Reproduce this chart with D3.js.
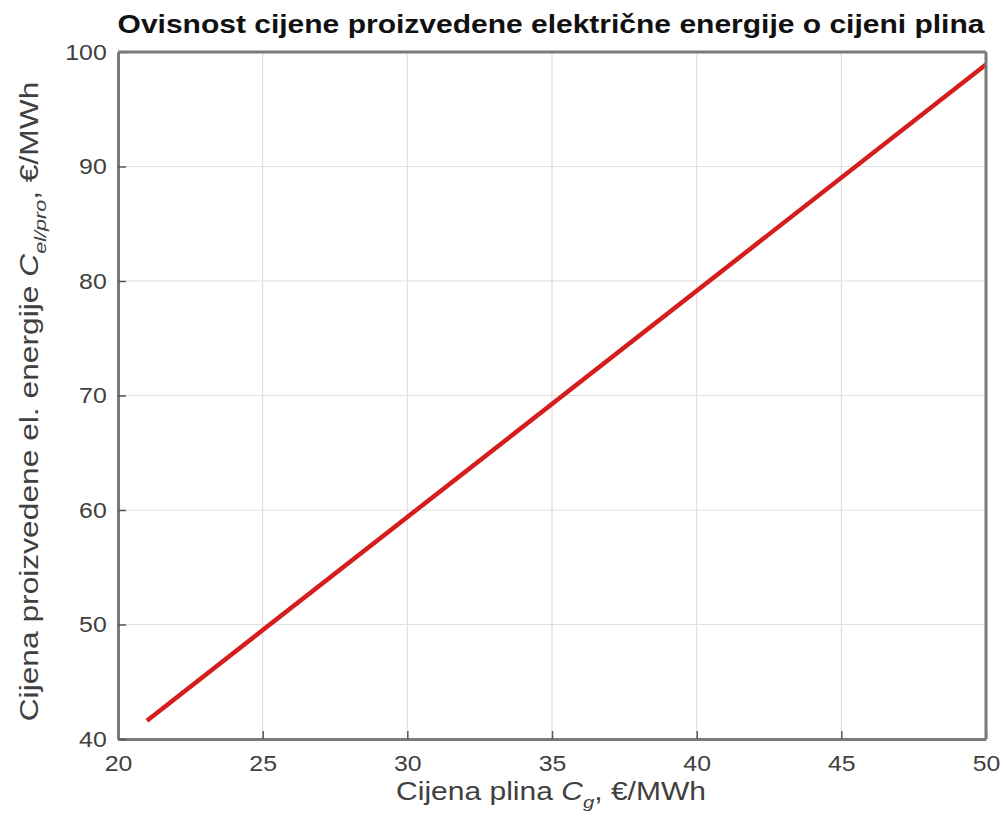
<!DOCTYPE html>
<html>
<head>
<meta charset="utf-8">
<script src="https://cdn.jsdelivr.net/npm/d3@7"></script>
<style>
  body { margin: 0; background: #fff; }
  text { font-family: "Liberation Sans", Arial, sans-serif; }
</style>
</head>
<body>
<div id="chart"></div>
<script>
// gas price (€/MWh) and resulting electricity price (€/MWh)
var gasPrice = [21, 50];
var elPrice = [41.6, 98.9];
var xTicks = [20, 25, 30, 35, 40, 45, 50];
var yTicks = [40, 50, 60, 70, 80, 90, 100];

var width = 1004, height = 828;
var margin = {top: 52, right: 18, bottom: 89, left: 118};

var svg = d3.select("#chart").append("svg")
    .attr("width", width)
    .attr("height", height);

var x = d3.scaleLinear().domain([20, 50]).range([margin.left, width - margin.right]);
var y = d3.scaleLinear().domain([40, 100]).range([height - margin.bottom, margin.top]);

var data = gasPrice.map(function(g, i) { return {g: g, e: elPrice[i]}; });

// gridlines
svg.append("g")
    .selectAll("line")
    .data(xTicks.slice(1, -1))
    .enter().append("line")
    .attr("x1", function(d) { return x(d); })
    .attr("x2", function(d) { return x(d); })
    .attr("y1", y.range()[0])
    .attr("y2", y.range()[1])
    .attr("stroke", "#e0e0e0")
    .attr("stroke-width", 1.2);

svg.append("g")
    .selectAll("line")
    .data(yTicks.slice(1, -1))
    .enter().append("line")
    .attr("x1", x.range()[0])
    .attr("x2", x.range()[1])
    .attr("y1", function(d) { return y(d); })
    .attr("y2", function(d) { return y(d); })
    .attr("stroke", "#e0e0e0")
    .attr("stroke-width", 1.2);

// line
var line = d3.line()
    .x(function(d) { return x(d.g); })
    .y(function(d) { return y(d.e); });

svg.append("path")
    .datum(data)
    .attr("fill", "none")
    .attr("stroke", "#d61d1d")
    .attr("stroke-width", 4.5)
    .attr("d", line);

// axes (ticks pointing inward, MATLAB style)
var xAxis = svg.append("g")
    .attr("transform", "translate(0," + y.range()[0] + ")")
    .call(d3.axisBottom(x).tickValues(xTicks).tickSize(-8).tickPadding(16).tickSizeOuter(0));

var yAxis = svg.append("g")
    .attr("transform", "translate(" + x.range()[0] + ",0)")
    .call(d3.axisLeft(y).tickValues(yTicks).tickSize(-8).tickPadding(10).tickSizeOuter(0));

[xAxis, yAxis].forEach(function(a) {
    a.select(".domain").attr("stroke", "#7a7a7a").attr("stroke-width", 3);
    a.selectAll(".tick line").attr("stroke", "#555").attr("stroke-width", 1.5);
    a.selectAll(".tick text")
        .attr("fill", "#404040")
        .attr("transform", "scale(1.13,1)")
        .style("font-size", "22px")
        .style("font-family", "'Liberation Sans', Arial, sans-serif");
});

// top and right box edges
svg.append("line")
    .attr("x1", x.range()[0]).attr("x2", x.range()[1])
    .attr("y1", y.range()[1]).attr("y2", y.range()[1])
    .attr("stroke", "#7a7a7a").attr("stroke-width", 3);
svg.append("line")
    .attr("x1", x.range()[1]).attr("x2", x.range()[1])
    .attr("y1", y.range()[1]).attr("y2", y.range()[0])
    .attr("stroke", "#7a7a7a").attr("stroke-width", 3);

var cx = (x.range()[0] + x.range()[1]) / 2;
var cy = (y.range()[0] + y.range()[1]) / 2;

// title
svg.append("text")
    .attr("transform", "translate(" + (cx - 1) + ",33) scale(1.2,1)")
    .attr("text-anchor", "middle")
    .attr("fill", "#111")
    .style("font-size", "25px")
    .style("font-weight", "bold")
    .text("Ovisnost cijene proizvedene električne energije o cijeni plina");

// x label
var xl = svg.append("text")
    .attr("transform", "translate(" + (cx - 1) + ",800) scale(1.2,1)")
    .attr("text-anchor", "middle")
    .attr("fill", "#404040")
    .style("font-size", "25px");
xl.append("tspan").text("Cijena plina ");
xl.append("tspan").style("font-style", "italic").text("C");
xl.append("tspan").attr("dy", 8).style("font-style", "italic").style("font-size", "17px").text("g");
xl.append("tspan").attr("dy", -8).text(", €/MWh");

// y label
var yl = svg.append("text")
    .attr("transform", "translate(38," + (cy + 6) + ") rotate(-90) scale(1.27,1)")
    .attr("text-anchor", "middle")
    .attr("fill", "#404040")
    .style("font-size", "25px");
yl.append("tspan").text("Cijena proizvedene el. energije ");
yl.append("tspan").style("font-style", "italic").text("C");
yl.append("tspan").attr("dy", 8).style("font-style", "italic").style("font-size", "17px").text("el/pro");
yl.append("tspan").attr("dy", -8).text(", €/MWh");
</script>
</body>
</html>
